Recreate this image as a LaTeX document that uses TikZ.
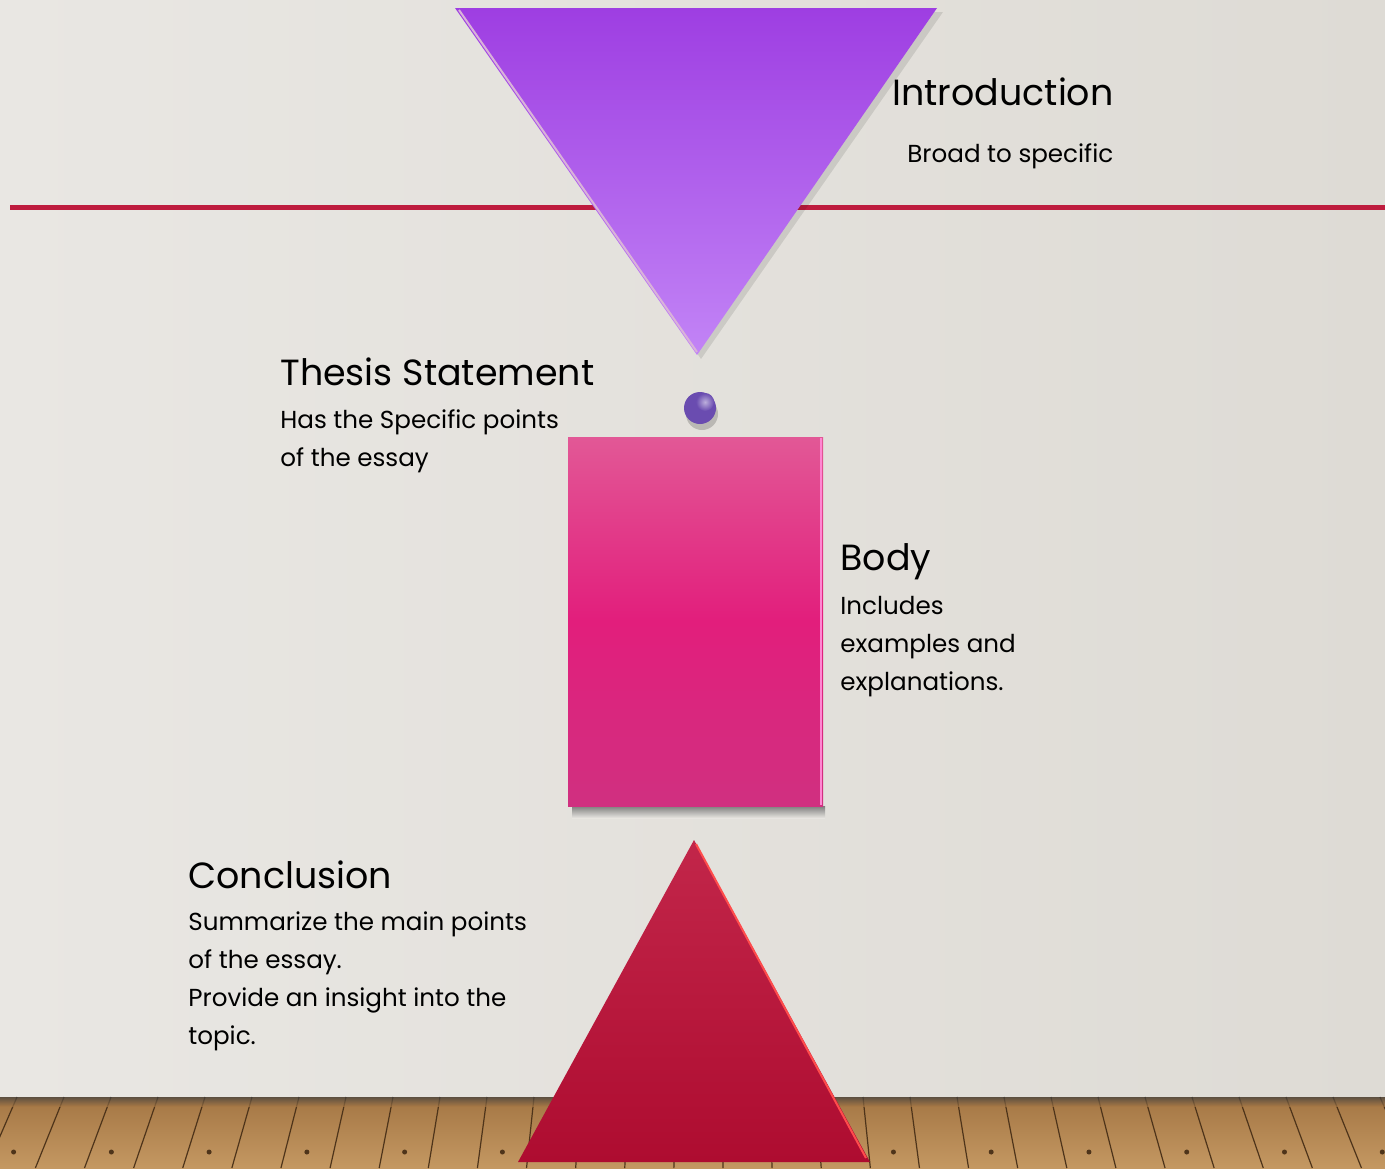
\documentclass[tikz,border=0pt]{standalone}
\usepackage{fontspec}
\setmainfont{Poppins}
\definecolor{wallL}{RGB}{233,231,227}
\definecolor{wallR}{RGB}{222,219,213}
\definecolor{lineRed}{RGB}{190,28,62}
\definecolor{introTop}{RGB}{158,62,226}
\definecolor{introBot}{RGB}{194,132,246}
\definecolor{bodyTop}{RGB}{226,88,150}
\definecolor{bodyMid}{RGB}{226,30,124}
\definecolor{bodyBot}{RGB}{208,48,128}
\definecolor{conTop}{RGB}{194,38,74}
\definecolor{conBot}{RGB}{174,12,48}
\definecolor{woodA}{RGB}{196,152,98}
\definecolor{woodB}{RGB}{164,118,68}
\definecolor{grain}{RGB}{78,52,26}
\definecolor{dot}{RGB}{106,76,176}
\tikzset{
  head/.style={anchor=base west,font=\fontsize{18.2}{22}\selectfont,inner sep=0pt},
  txt/.style={anchor=base west,font=\fontsize{12.3}{19}\selectfont,inner sep=0pt,align=left},
}
\begin{document}
\begin{tikzpicture}[x=0.5pt,y=-0.5pt]
\useasboundingbox (0,0) rectangle (1385,1168);
% mur et plancher
\shade[left color=wallL,right color=wallR] (0,0) rectangle (1385,1100);
\shade[top color=woodB,bottom color=woodA] (0,1097) rectangle (1385,1168);
\foreach \x in {-30,17,...,1420} {
  \draw[grain,line width=0.6pt] (\x,1097) -- ({\x+(\x-700)*0.045},1168);
}
\foreach \x in {40,134,...,1400} {
  \fill[grain] ({\x+(\x-700)*0.04},1152) circle (2.5);
}
\shade[top color=black!75,bottom color=woodB,opacity=0.7] (0,1097) rectangle (1385,1106);
% ligne rouge
\draw[lineRed,line width=2.5pt] (10,207) -- (1385,207);
% Introduction
\fill[black,opacity=0.1] (461,12) -- (943,12) -- (701,359) -- cycle;
\shade[top color=introTop,bottom color=introBot] (455,8) -- (937,8) -- (697,355) -- cycle;
\draw[violet!30!white,line width=1pt] (459,10) -- (697,352);
\node[head] (intro) at (892,105) {Introduction};
\node[txt] (introT) at (907,162) {Broad to specific};
% Thesis
\fill[black,opacity=0.18] (702,414) circle (16);
\fill[dot] (700,408) circle (16);
\shade[inner color=dot!45!white,outer color=dot] (705,402) circle (9);
\node[head] (thesis) at (280,385) {Thesis Statement};
\node[txt] (thesisT) at (280,466) {Has the Specific points\\of the essay};
% Body
\shade[top color=black!60,bottom color=wallL,opacity=0.8] (572,806) rectangle (825,818);
\shade[top color=bodyTop,bottom color=bodyBot,middle color=bodyMid] (568,437) rectangle (823,806);
\draw[pink!70!magenta,line width=1pt] (821,438) -- (821,805);
\node[head] (body) at (840,570) {Body};
\node[txt] (bodyT) at (840,690) {Includes\\examples and\\explanations.};
% Conclusion
\shade[top color=conTop,bottom color=conBot] (694,840) -- (870,1162) -- (518,1162) -- cycle;
\draw[red!60!pink,line width=1pt] (696,844) -- (866,1158);
\node[head] (concl) at (188,888) {Conclusion};
\node[txt] (conclT) at (188,1044) {Summarize the main points\\of the essay.\\Provide an insight into the\\topic.};
\end{tikzpicture}
\end{document}
